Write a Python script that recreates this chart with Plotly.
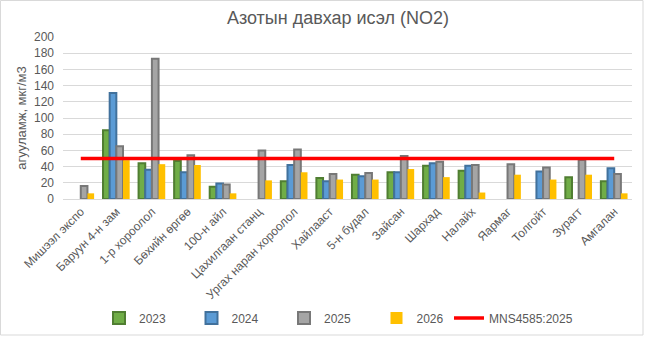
import plotly.graph_objects as go

categories = ["Мишээл экспо", "Баруун 4-н зам", "1-р хороолол", "Бөхийн өргөө", "100-н айл",
              "Цахилгаан станц", "Ургах наран хороолол", "Хайлааст", "5-н будал", "Зайсан",
              "Шархад", "Налайх", "Яармаг", "Толгойт", "Зурагт", "Амгалан"]
v2023 = [None, 85, 44, 47, 15, None, 22, 26, 30, 33, 41, 35, None, None, 27, 22]
v2024 = [None, 131, 36, 33, 19, None, 42, 22, 28, 33, 44, 41, None, 34, None, 38]
v2025 = [16, 65, 173, 54, 18, 60, 61, 31, 32, 53, 46, 42, 43, 39, 48, 31]
v2026 = [7, 48, 43, 42, 7, 23, 33, 24, 24, 37, 27, 8, 30, 24, 30, 7]
standard_name = "MNS4585:2025"
standard_value = 50
y_ticks = list(range(0, 201, 20))

W, H = 647, 337
ML, MR, MT, MB = 63, 15, 37, 138
pw, ph = W - ML - MR, H - MT - MB

fig = go.Figure()
series = [("2023", v2023, "#70AD47", "#507E32", 2),
          ("2024", v2024, "#5B9BD5", "#41719C", 2),
          ("2025", v2025, "#A5A5A5", "#787878", 2),
          ("2026", v2026, "#FFC000", "#FFC000", 0)]
for name, vals, fill, line, lw in series:
    fig.add_trace(go.Bar(x=categories, y=vals, name=name,
                         marker=dict(color=fill, line=dict(color=line, width=lw))))
fig.add_trace(go.Scatter(x=[categories[0], categories[-1]], y=[standard_value, standard_value],
                         mode="lines", name=standard_name, legend="legend2",
                         line=dict(color="#FF0000", width=3.5)))

leg_y = (MT + ph - 318) / ph
fig.update_layout(
    width=W, height=H,
    margin=dict(l=ML, r=MR, t=MT, b=MB, autoexpand=False),
    paper_bgcolor="white", plot_bgcolor="white",
    barmode="group", bargap=0.25, bargroupgap=0,
    font=dict(family="Liberation Sans, Arial, sans-serif", color="#595959", size=12),
    title=dict(text="Азотын давхар исэл (NO2)", x=(338) / W, xanchor="center",
               y=1 - 18 / H, yanchor="middle",
               font=dict(size=18, color="#595959")),
    showlegend=True,
    legend=dict(orientation="h", x=(99 - ML) / pw, xanchor="left", y=leg_y,
                yanchor="middle", entrywidth=47.5, font=dict(size=12, color="#595959"),
                bgcolor="rgba(0,0,0,0)"),
    legend2=dict(orientation="h", x=(449 - ML) / pw, xanchor="left", y=leg_y,
                 yanchor="middle", font=dict(size=12, color="#595959"),
                 bgcolor="rgba(0,0,0,0)"),
    xaxis=dict(type="category", tickangle=-45, showgrid=False, showline=True,
               linecolor="#D9D9D9", linewidth=1, ticks="", tickfont=dict(size=12),
               automargin=False),
    yaxis=dict(range=[0, 200], tickvals=y_ticks, showgrid=True, gridcolor="#D9D9D9",
               gridwidth=1, zeroline=False, ticks="", tickfont=dict(size=12),
               ticklabelstandoff=8, automargin=False,
               title=dict(text="агууламж, мкг/м3", font=dict(size=13, color="#595959"),
                          standoff=4)),
    shapes=[dict(type="rect", xref="paper", yref="paper",
                 x0=(0.5 - ML) / pw, x1=(643 - ML) / pw,
                 y0=(MT + ph - 335) / ph, y1=(MT + ph - 0.5) / ph,
                 line=dict(color="#D9D9D9", width=1), layer="below")],
)
fig.write_html("out.html")
